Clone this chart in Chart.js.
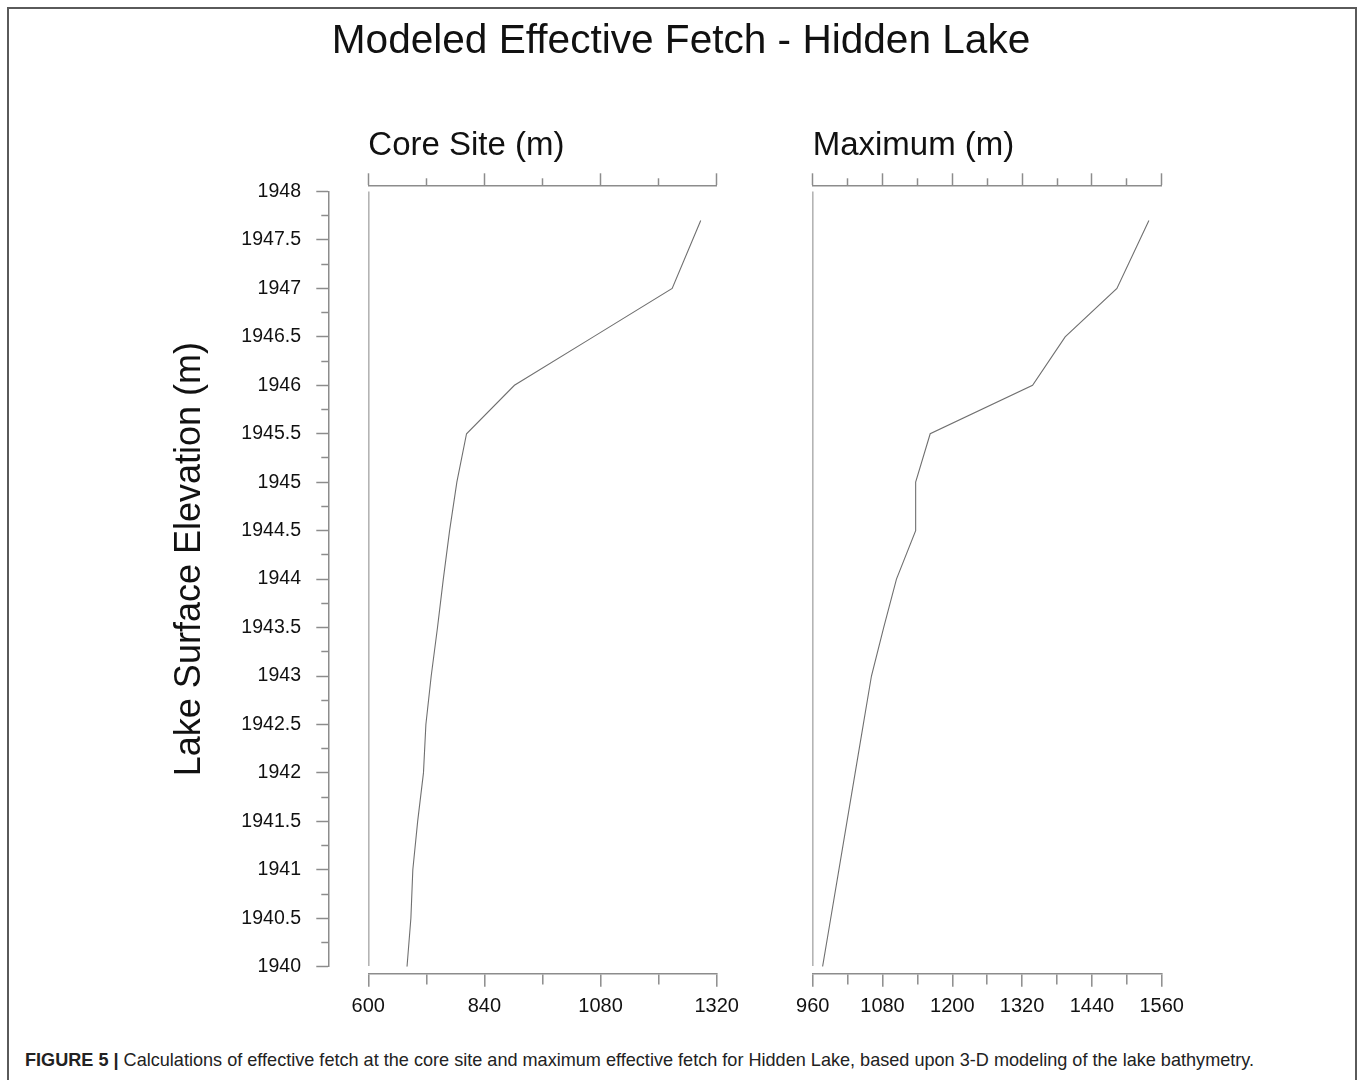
<!DOCTYPE html>
<html>
<head>
<meta charset="utf-8">
<script src="https://cdn.jsdelivr.net/npm/chart.js@4.4.1/dist/chart.umd.min.js"></script>
<style>
  html, body { margin: 0; padding: 0; background: #ffffff; width: 1358px; height: 1080px; overflow: hidden; }
  #frame { position: absolute; left: 7px; top: 7px; width: 1350px; height: 1100px; box-sizing: border-box; border: 2px solid #5a5a5a; }
  #wrap { position: absolute; left: 0; top: 0; width: 1358px; height: 1040px; }
  #caption { position: absolute; left: 25px; top: 1050px; line-height: 20px; font-family: 'Liberation Sans', Arial, sans-serif; font-size: 18.1px; color: #222; white-space: nowrap; }
</style>
</head>
<body>
<div id="frame"></div>
<div id="wrap"><canvas id="c"></canvas></div>
<div id="caption"><b>FIGURE 5 |</b> Calculations of effective fetch at the core site and maximum effective fetch for Hidden Lake, based upon 3-D modeling of the lake bathymetry.</div>
<script>
// ---- data ----
const elevations    = [1940, 1940.5, 1941, 1941.5, 1942, 1942.5, 1943, 1943.5, 1944, 1944.5, 1945, 1945.5, 1946, 1946.5, 1947, 1947.7];
const coreSiteFetch = [680, 688, 692, 702, 714, 719, 730, 743, 755, 768, 783, 803, 902, 1065, 1228, 1287];
const maximumFetch  = [977, 991, 1005, 1019, 1033, 1047, 1061, 1082, 1104, 1137, 1137, 1162, 1338, 1394, 1483, 1538];

const coreTicks      = [600, 840, 1080, 1320];
const maximumTicks   = [960, 1080, 1200, 1320, 1440, 1560];
const elevationTicks = [1940, 1940.5, 1941, 1941.5, 1942, 1942.5, 1943, 1943.5, 1944, 1944.5, 1945, 1945.5, 1946, 1946.5, 1947, 1947.5, 1948];

const mainTitle  = 'Modeled Effective Fetch - Hidden Lake';
const coreTitle  = 'Core Site (m)';
const maxTitle   = 'Maximum (m)';
const yTitle     = 'Lake Surface Elevation (m)';

// ---- styling ----
const FONT = "'Liberation Sans', Arial, sans-serif";
const AXIS = '#8c8c8c';
const TXT = '#111111';
const EDGE = '#b4b4b4';
const LINE = '#707070';
const CLEAR = 'rgba(0,0,0,0)';

Chart.defaults.font.family = FONT;

function pts(xs) { return xs.map((v, i) => ({ x: v, y: elevations[i] })); }

// tick dash helpers: full length for major ticks, shorter for minor ones
function dashFromBorder(isMajor, minorLen) { return c => (c.tick && isMajor(c.tick.value)) ? [] : [minorLen, 200]; }
function dashTowardBorder(isMajor, tl, minorLen) {
  return {
    dash: c => (c.tick && isMajor(c.tick.value)) ? [] : [minorLen, 200],
    offset: c => (c.tick && isMajor(c.tick.value)) ? 0 : (minorLen + 200) - (tl - minorLen)
  };
}
const isCoreMajor = v => coreTicks.includes(v);
const isMaxMajor  = v => maximumTicks.includes(v);
const isElevMajor = v => elevationTicks.includes(v);

function hidden(extra) {
  return Object.assign({
    type: 'linear',
    ticks: { display: false },
    grid: { display: false, drawTicks: false, drawOnChartArea: false },
    border: { display: false }
  }, extra);
}

const coreStep = (coreTicks[1] - coreTicks[0]) / 2;
const maxStep = (maximumTicks[1] - maximumTicks[0]) / 2;
const elevStep = (elevationTicks[1] - elevationTicks[0]) / 2;

const W_LEFT = 348.4, W_GAP = 96, W_RIGHT = 349;

const yDash = dashTowardBorder(isElevMajor, 12, 7);
const tDashCore = dashTowardBorder(isCoreMajor, 12.7, 7.7);
const tDashMax = dashTowardBorder(isMaxMajor, 12.7, 7.7);

const scales = {
  y: {
    type: 'linear', axis: 'y', position: 'left', weight: 1,
    min: elevationTicks[0], max: elevationTicks[elevationTicks.length - 1],
    ticks: { stepSize: elevStep, autoSkip: false, padding: 15.3, color: TXT, font: { size: 19.5 },
             callback: v => isElevMajor(v) ? String(v) : '' },
    grid: { drawOnChartArea: false, drawTicks: true, tickLength: 12, tickColor: AXIS, tickWidth: 1.5,
            tickBorderDash: yDash.dash, tickBorderDashOffset: yDash.offset },
    border: { display: true, color: AXIS, width: 1.5 },
    title: { display: true, text: '    ' + yTitle, color: TXT, font: { size: 36 }, padding: { top: 164.4, bottom: 0 } },
    afterFit: s => { s.width = 324.3; }
  },
  yPad: hidden({ axis: 'y', position: 'left', weight: 0, min: elevationTicks[0], max: elevationTicks[elevationTicks.length - 1],
                 afterFit: s => { s.width = 40; } }),
  yR: hidden({ axis: 'y', position: 'right', weight: 0, min: elevationTicks[0], max: elevationTicks[elevationTicks.length - 1],
               afterFit: s => { s.width = 196.3; } }),
  padT: hidden({ axis: 'x', position: 'top', weight: 0, min: 0, max: 1, afterFit: s => { s.height = 5.5; } }),
  padB: hidden({ axis: 'x', position: 'bottom', weight: 0, min: 0, max: 1, afterFit: s => { s.height = 6.6; } }),

  xLT: {
    type: 'linear', axis: 'x', position: 'top', stack: 'topRow', stackWeight: W_LEFT, weight: 1.3,
    min: coreTicks[0], max: coreTicks[coreTicks.length - 1],
    ticks: { display: false, stepSize: coreStep, autoSkip: false },
    grid: { drawOnChartArea: false, drawTicks: true, tickLength: 12.7, tickColor: AXIS, tickWidth: 1.5,
            tickBorderDash: tDashCore.dash, tickBorderDashOffset: tDashCore.offset },
    border: { display: true, color: AXIS, width: 1.5 },
    title: { display: true, text: coreTitle, align: 'start', color: TXT, font: { size: 33 }, padding: { top: 0.2, bottom: 0 } },
    afterFit: s => { s.height = 60; }
  },
  xGapT: hidden({ axis: 'x', position: 'top', stack: 'topRow', stackWeight: W_GAP, weight: 1.2, min: 0, max: 1,
                  afterFit: s => { s.height = 60; } }),
  xRT: {
    type: 'linear', axis: 'x', position: 'top', stack: 'topRow', stackWeight: W_RIGHT, weight: 1.1,
    min: maximumTicks[0], max: maximumTicks[maximumTicks.length - 1],
    ticks: { display: false, stepSize: maxStep, autoSkip: false },
    grid: { drawOnChartArea: false, drawTicks: true, tickLength: 12.7, tickColor: AXIS, tickWidth: 1.5,
            tickBorderDash: tDashMax.dash, tickBorderDashOffset: tDashMax.offset },
    border: { display: true, color: AXIS, width: 1.5 },
    title: { display: true, text: maxTitle, align: 'start', color: TXT, font: { size: 33 }, padding: { top: 0.2, bottom: 0 } },
    afterFit: s => { s.height = 60; }
  },

  xL: {
    type: 'linear', axis: 'x', position: 'bottom', stack: 'bottomRow', stackWeight: W_LEFT, weight: 1.1,
    min: coreTicks[0], max: coreTicks[coreTicks.length - 1],
    ticks: { stepSize: coreStep, autoSkip: false, maxRotation: 0, minRotation: 0, padding: 7.3, color: TXT, font: { size: 20 },
             callback: v => isCoreMajor(v) ? String(v) : '' },
    grid: { drawOnChartArea: true, color: c => (c.tick && c.tick.value === coreTicks[0]) ? EDGE : CLEAR, lineWidth: 1.6,
            drawTicks: true, tickLength: 13.4, tickColor: AXIS, tickWidth: 1.5,
            tickBorderDash: dashFromBorder(isCoreMajor, 10), tickBorderDashOffset: 0 },
    border: { display: true, color: AXIS, width: 1.5 },
    afterFit: s => { s.height = 50; }
  },
  xGapB: hidden({ axis: 'x', position: 'bottom', stack: 'bottomRow', stackWeight: W_GAP, weight: 1.2, min: 0, max: 1,
                  afterFit: s => { s.height = 50; } }),
  xR: {
    type: 'linear', axis: 'x', position: 'bottom', stack: 'bottomRow', stackWeight: W_RIGHT, weight: 1.3,
    min: maximumTicks[0], max: maximumTicks[maximumTicks.length - 1],
    ticks: { stepSize: maxStep, autoSkip: false, maxRotation: 0, minRotation: 0, padding: 7.3, color: TXT, font: { size: 20 },
             callback: v => isMaxMajor(v) ? String(v) : '' },
    grid: { drawOnChartArea: true, color: c => (c.tick && c.tick.value === maximumTicks[0]) ? EDGE : CLEAR, lineWidth: 1.6,
            drawTicks: true, tickLength: 13.4, tickColor: AXIS, tickWidth: 1.5,
            tickBorderDash: dashFromBorder(isMaxMajor, 10), tickBorderDashOffset: 0 },
    border: { display: true, color: AXIS, width: 1.5 },
    afterFit: s => { s.height = 50; }
  }
};

new Chart(document.getElementById('c'), {
  type: 'scatter',
  data: {
    datasets: [
      { label: coreTitle, data: pts(coreSiteFetch), xAxisID: 'xL', yAxisID: 'y', showLine: true,
        borderColor: LINE, borderWidth: 1.1, pointRadius: 0, pointHoverRadius: 0, fill: false, tension: 0 },
      { label: maxTitle, data: pts(maximumFetch), xAxisID: 'xR', yAxisID: 'y', showLine: true,
        borderColor: LINE, borderWidth: 1.1, pointRadius: 0, pointHoverRadius: 0, fill: false, tension: 0 }
    ]
  },
  options: {
    responsive: true,
    maintainAspectRatio: false,
    animation: false,
    events: [],
    layout: { padding: { left: 4, right: 0, top: 0, bottom: 16.7 } },
    plugins: {
      legend: { display: false },
      tooltip: { enabled: false },
      title: { display: true, text: mainTitle, color: TXT, font: { size: 40.6, weight: 'normal' },
               padding: { top: 17.6, bottom: 59.68 } }
    },
    scales: scales
  }
});
</script>
</body>
</html>
